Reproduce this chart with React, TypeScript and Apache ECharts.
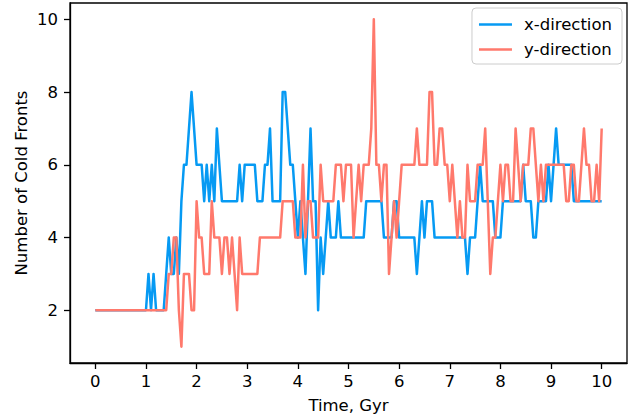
import React, { useEffect, useRef } from "react";
import * as echarts from "echarts";

// Sampling step of the simulation output (Gyr)
const TIME_STEP = 0.05;

// Number of cold fronts, x-direction (one value per output, t = 0 … 10 Gyr)
const xDirection = [
  2, 2, 2, 2, 2, 2, 2, 2, 2, 2,
  2, 2, 2, 2, 2, 2, 2, 2, 2, 2,
  2, 3, 2, 3, 2, 2, 2, 2, 3, 4,
  3, 3, 4, 3, 5, 6, 6, 7, 8, 7,
  6, 6, 6, 5, 6, 5, 6, 5, 7, 6,
  5, 5, 5, 5, 5, 5, 5, 6, 5, 6,
  6, 6, 6, 6, 5, 5, 5, 6, 6, 7,
  5, 5, 5, 5, 8, 8, 7, 6, 6, 5,
  4, 5, 4, 3, 5, 7, 5, 5, 2, 4,
  3, 4, 5, 4, 4, 4, 5, 4, 4, 4,
  4, 4, 4, 4, 4, 4, 4, 5, 5, 5,
  5, 5, 5, 5, 4, 4, 4, 4, 5, 5,
  4, 4, 4, 4, 4, 4, 4, 3, 4, 5,
  4, 5, 5, 5, 4, 4, 4, 4, 4, 4,
  4, 4, 4, 4, 4, 4, 4, 3, 4, 4,
  4, 5, 6, 5, 5, 5, 5, 5, 4, 4,
  4, 5, 5, 5, 5, 5, 5, 5, 5, 6,
  5, 5, 5, 4, 4, 5, 5, 5, 5, 6,
  5, 6, 7, 6, 6, 6, 6, 6, 6, 5,
  5, 5, 5, 5, 5, 5, 5, 5, 5, 5,
  5,
];

// Number of cold fronts, y-direction
const yDirection = [
  2, 2, 2, 2, 2, 2, 2, 2, 2, 2,
  2, 2, 2, 2, 2, 2, 2, 2, 2, 2,
  2, 2, 2, 2, 2, 2, 2, 2, 2, 3,
  3, 4, 4, 2, 1, 3, 3, 3, 2, 2,
  5, 4, 4, 3, 3, 3, 5, 4, 4, 4,
  3, 4, 4, 3, 4, 3, 2, 4, 3, 3,
  3, 3, 3, 3, 3, 4, 4, 4, 4, 4,
  4, 4, 4, 4, 5, 5, 5, 5, 5, 4,
  4, 4, 6, 4, 5, 5, 4, 4, 4, 6,
  5, 5, 5, 5, 5, 6, 6, 6, 5, 6,
  6, 6, 4, 5, 6, 5, 6, 6, 6, 7,
  10, 6, 6, 5, 6, 6, 3, 4, 5, 4,
  5, 6, 6, 6, 6, 6, 6, 7, 6, 6,
  6, 6, 8, 8, 6, 6, 7, 7, 6, 6,
  5, 6, 5, 4, 5, 4, 4, 6, 5, 5,
  5, 6, 6, 6, 7, 5, 3, 4, 4, 5,
  6, 5, 6, 6, 5, 5, 7, 6, 5, 6,
  6, 6, 7, 7, 6, 5, 6, 5, 6, 6,
  6, 6, 6, 6, 6, 6, 5, 5, 6, 6,
  5, 5, 6, 7, 6, 6, 5, 5, 6, 5,
  7,
];

const xTicks = [0, 1, 2, 3, 4, 5, 6, 7, 8, 9, 10];
const yTicks = [2, 4, 6, 8, 10];

const SERIES_NAMES = ["x-direction", "y-direction"];
const COLORS = ["#069AF3", "#FF796C"];

const FONT = "DejaVu Sans";

export default function App() {
  const ref = useRef<HTMLDivElement>(null);

  useEffect(() => {
    if (!ref.current) return;
    const chart = echarts.init(ref.current, undefined, { renderer: "svg" });
    const times = xDirection.map((_, i) => Math.round(i * TIME_STEP * 100) / 100);
    const toPairs = (vals: number[]) => vals.map((v, i) => [times[i], v]);

    chart.setOption({
      animation: false,
      backgroundColor: "#ffffff",
      grid: {
        left: 70,
        right: 11,
        top: 3,
        bottom: 55,
        show: true,
        borderColor: "#000",
        borderWidth: 1.3,
        backgroundColor: "transparent",
      },
      legend: {
        orient: "vertical",
        right: 16,
        top: 8,
        padding: [8, 10, 6, 7],
        itemGap: 8,
        itemWidth: 33,
        itemHeight: 2.5,
        icon: "rect",
        borderColor: "#cccccc",
        borderWidth: 1,
        borderRadius: 4,
        backgroundColor: "rgba(255,255,255,0.8)",
        textStyle: {
          fontFamily: FONT,
          fontSize: 16.5,
          color: "#000",
          padding: [0, 0, 0, 7],
        },
        data: SERIES_NAMES,
      },
      xAxis: {
        type: "value",
        min: -0.5,
        max: 10.5,
        name: "Time, Gyr",
        nameLocation: "middle",
        nameGap: 34,
        nameTextStyle: { fontFamily: FONT, fontSize: 16.5, color: "#000" },
        axisLine: { show: true, onZero: false, lineStyle: { color: "#000", width: 1.3 } },
        axisTick: {
          show: true,
          inside: false,
          length: 6,
          lineStyle: { color: "#000", width: 1.3 },
          customValues: xTicks,
        },
        axisLabel: {
          fontFamily: FONT,
          fontSize: 16.5,
          color: "#000",
          margin: 10,
          customValues: xTicks,
        },
        splitLine: { show: false },
      },
      yAxis: {
        type: "value",
        min: 0.55,
        max: 10.45,
        name: "Number of Cold Fronts",
        nameLocation: "middle",
        nameGap: 40,
        nameMoveOverlap: false,
        nameRotate: 90,
        nameTextStyle: { fontFamily: FONT, fontSize: 16.5, color: "#000" },
        axisLine: { show: true, onZero: false, lineStyle: { color: "#000", width: 1.3 } },
        axisTick: {
          show: true,
          inside: false,
          length: 6,
          lineStyle: { color: "#000", width: 1.3 },
          customValues: yTicks,
        },
        axisLabel: {
          fontFamily: FONT,
          fontSize: 16.5,
          color: "#000",
          margin: 12,
          customValues: yTicks,
        },
        splitLine: { show: false },
      },
      series: [
        {
          name: SERIES_NAMES[0],
          type: "line",
          data: toPairs(xDirection),
          symbol: "none",
          color: COLORS[0],
          lineStyle: { color: COLORS[0], width: 2.5, join: "round" },
          z: 2,
        },
        {
          name: SERIES_NAMES[1],
          type: "line",
          data: toPairs(yDirection),
          symbol: "none",
          color: COLORS[1],
          lineStyle: { color: COLORS[1], width: 2.5, join: "round" },
          z: 3,
        },
      ],
    });

    return () => {
      chart.dispose();
    };
  }, []);

  return (
    <div
      ref={ref}
      style={{ position: "fixed", left: 0, top: 0, width: 638, height: 419 }}
    />
  );
}
